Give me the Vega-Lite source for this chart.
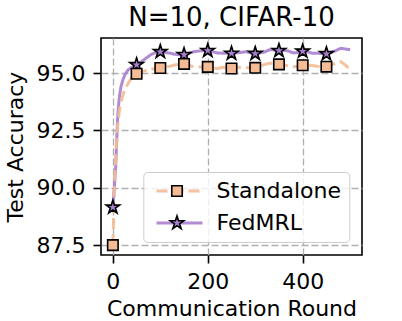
{
  "$schema": "https://vega.github.io/schema/vega-lite/v6.json",
  "autosize": "none",
  "width": 261,
  "height": 217,
  "padding": {"left": 101, "top": 38, "right": 40, "bottom": 66},
  "background": "white",
  "title": {"text": "N=10, CIFAR-10", "fontSize": 26, "font": "DejaVu Sans", "fontWeight": "normal", "color": "black", "anchor": "middle", "frame": "group", "baseline": "top", "offset": 7.5},
  "config": {
    "view": {"stroke": "black", "strokeWidth": 1.6},
    "axis": {"labelFont": "DejaVu Sans", "labelFontSize": 22, "labelColor": "black", "titleFont": "DejaVu Sans", "titleFontSize": 22, "titleFontWeight": "normal", "titleColor": "black", "tickColor": "black", "tickSize": 8, "tickWidth": 1.6, "domain": false, "gridColor": "#b0b0b0", "gridDash": [7, 3], "gridWidth": 1.3, "labelPadding": 8}
  },
  "data": {"values": [
    {"r": 0, "acc": 89.15, "m": "FedMRL"}, {"r": 3, "acc": 90.0, "m": "FedMRL"}, {"r": 6, "acc": 90.9, "m": "FedMRL"}, {"r": 8, "acc": 92.0, "m": "FedMRL"}, {"r": 10, "acc": 93.0, "m": "FedMRL"}, {"r": 12, "acc": 93.6, "m": "FedMRL"}, {"r": 14, "acc": 94.0, "m": "FedMRL"}, {"r": 17, "acc": 94.4, "m": "FedMRL"}, {"r": 21, "acc": 94.7, "m": "FedMRL"}, {"r": 26, "acc": 94.95, "m": "FedMRL"}, {"r": 32, "acc": 95.14, "m": "FedMRL"}, {"r": 40, "acc": 95.25, "m": "FedMRL"},
    {"r": 50, "acc": 95.36, "m": "FedMRL"}, {"r": 60, "acc": 95.5, "m": "FedMRL"}, {"r": 70, "acc": 95.65, "m": "FedMRL"}, {"r": 80, "acc": 95.8, "m": "FedMRL"}, {"r": 90, "acc": 95.9, "m": "FedMRL"}, {"r": 100, "acc": 95.93, "m": "FedMRL"}, {"r": 110, "acc": 95.9, "m": "FedMRL"}, {"r": 120, "acc": 95.87, "m": "FedMRL"}, {"r": 130, "acc": 95.82, "m": "FedMRL"}, {"r": 140, "acc": 95.8, "m": "FedMRL"}, {"r": 150, "acc": 95.8, "m": "FedMRL"}, {"r": 160, "acc": 95.86, "m": "FedMRL"}, {"r": 170, "acc": 95.93, "m": "FedMRL"}, {"r": 180, "acc": 95.96, "m": "FedMRL"}, {"r": 190, "acc": 95.98, "m": "FedMRL"}, {"r": 200, "acc": 95.98, "m": "FedMRL"}, {"r": 210, "acc": 95.93, "m": "FedMRL"}, {"r": 220, "acc": 95.88, "m": "FedMRL"}, {"r": 230, "acc": 95.87, "m": "FedMRL"}, {"r": 240, "acc": 95.87, "m": "FedMRL"}, {"r": 250, "acc": 95.86, "m": "FedMRL"}, {"r": 260, "acc": 95.88, "m": "FedMRL"}, {"r": 270, "acc": 95.9, "m": "FedMRL"}, {"r": 280, "acc": 95.93, "m": "FedMRL"}, {"r": 290, "acc": 95.88, "m": "FedMRL"}, {"r": 300, "acc": 95.85, "m": "FedMRL"}, {"r": 310, "acc": 95.88, "m": "FedMRL"}, {"r": 320, "acc": 95.92, "m": "FedMRL"}, {"r": 330, "acc": 96.02, "m": "FedMRL"}, {"r": 340, "acc": 96.01, "m": "FedMRL"}, {"r": 350, "acc": 95.98, "m": "FedMRL"}, {"r": 360, "acc": 96.0, "m": "FedMRL"}, {"r": 370, "acc": 95.96, "m": "FedMRL"}, {"r": 380, "acc": 95.88, "m": "FedMRL"}, {"r": 390, "acc": 95.9, "m": "FedMRL"}, {"r": 400, "acc": 95.95, "m": "FedMRL"}, {"r": 410, "acc": 95.92, "m": "FedMRL"}, {"r": 420, "acc": 95.87, "m": "FedMRL"}, {"r": 430, "acc": 95.87, "m": "FedMRL"}, {"r": 440, "acc": 95.85, "m": "FedMRL"}, {"r": 450, "acc": 95.84, "m": "FedMRL"}, {"r": 460, "acc": 95.9, "m": "FedMRL"}, {"r": 470, "acc": 95.98, "m": "FedMRL"}, {"r": 480, "acc": 96.08, "m": "FedMRL"}, {"r": 490, "acc": 96.05, "m": "FedMRL"}, {"r": 500, "acc": 96.02, "m": "FedMRL"},
    {"r": 0, "acc": 87.5, "m": "Standalone"}, {"r": 2, "acc": 89.0, "m": "Standalone"}, {"r": 4, "acc": 90.3, "m": "Standalone"}, {"r": 6, "acc": 91.3, "m": "Standalone"}, {"r": 8, "acc": 92.1, "m": "Standalone"}, {"r": 10, "acc": 92.7, "m": "Standalone"}, {"r": 14, "acc": 93.4, "m": "Standalone"}, {"r": 18, "acc": 93.8, "m": "Standalone"}, {"r": 22, "acc": 94.1, "m": "Standalone"}, {"r": 28, "acc": 94.4, "m": "Standalone"}, {"r": 35, "acc": 94.65, "m": "Standalone"}, {"r": 42, "acc": 94.85, "m": "Standalone"},
    {"r": 50, "acc": 94.97, "m": "Standalone"}, {"r": 60, "acc": 95.05, "m": "Standalone"}, {"r": 70, "acc": 95.12, "m": "Standalone"}, {"r": 80, "acc": 95.16, "m": "Standalone"}, {"r": 90, "acc": 95.2, "m": "Standalone"}, {"r": 100, "acc": 95.22, "m": "Standalone"}, {"r": 110, "acc": 95.27, "m": "Standalone"}, {"r": 120, "acc": 95.3, "m": "Standalone"}, {"r": 130, "acc": 95.35, "m": "Standalone"}, {"r": 140, "acc": 95.38, "m": "Standalone"}, {"r": 150, "acc": 95.4, "m": "Standalone"}, {"r": 160, "acc": 95.33, "m": "Standalone"}, {"r": 170, "acc": 95.28, "m": "Standalone"}, {"r": 180, "acc": 95.26, "m": "Standalone"}, {"r": 190, "acc": 95.27, "m": "Standalone"}, {"r": 200, "acc": 95.27, "m": "Standalone"}, {"r": 210, "acc": 95.22, "m": "Standalone"}, {"r": 220, "acc": 95.2, "m": "Standalone"}, {"r": 230, "acc": 95.24, "m": "Standalone"}, {"r": 240, "acc": 95.25, "m": "Standalone"}, {"r": 250, "acc": 95.2, "m": "Standalone"}, {"r": 260, "acc": 95.24, "m": "Standalone"}, {"r": 270, "acc": 95.26, "m": "Standalone"}, {"r": 280, "acc": 95.24, "m": "Standalone"}, {"r": 290, "acc": 95.22, "m": "Standalone"}, {"r": 300, "acc": 95.23, "m": "Standalone"}, {"r": 310, "acc": 95.3, "m": "Standalone"}, {"r": 320, "acc": 95.38, "m": "Standalone"}, {"r": 330, "acc": 95.43, "m": "Standalone"}, {"r": 340, "acc": 95.42, "m": "Standalone"}, {"r": 350, "acc": 95.38, "m": "Standalone"}, {"r": 360, "acc": 95.36, "m": "Standalone"}, {"r": 370, "acc": 95.3, "m": "Standalone"}, {"r": 380, "acc": 95.28, "m": "Standalone"}, {"r": 390, "acc": 95.3, "m": "Standalone"}, {"r": 400, "acc": 95.34, "m": "Standalone"}, {"r": 410, "acc": 95.35, "m": "Standalone"}, {"r": 420, "acc": 95.33, "m": "Standalone"}, {"r": 430, "acc": 95.3, "m": "Standalone"}, {"r": 440, "acc": 95.28, "m": "Standalone"}, {"r": 450, "acc": 95.28, "m": "Standalone"}, {"r": 460, "acc": 95.36, "m": "Standalone"}, {"r": 470, "acc": 95.43, "m": "Standalone"}, {"r": 480, "acc": 95.5, "m": "Standalone"}, {"r": 490, "acc": 95.35, "m": "Standalone"}, {"r": 500, "acc": 95.15, "m": "Standalone"}
  ]},
  "encoding": {
    "x": {"field": "r", "type": "quantitative", "scale": {"domain": [-25, 525], "nice": false, "zero": false}, "axis": {"title": "Communication Round", "values": [0, 200, 400], "titlePadding": 6}},
    "y": {"field": "acc", "type": "quantitative", "scale": {"domain": [87.07, 96.53], "nice": false, "zero": false}, "axis": {"title": "Test Accuracy", "values": [87.5, 90, 92.5, 95], "format": ".1f", "titlePadding": 9}}
  },
  "layer": [
    {
      "mark": {"type": "line", "strokeWidth": 3, "opacity": 0.9},
      "encoding": {
        "color": {"field": "m", "type": "nominal", "sort": "descending", "scale": {"range": ["#f4bb94", "#a97fd0"]},
          "legend": {"title": null, "orient": "none", "zindex": 1, "legendX": 42.3, "legendY": 134, "padding": 8, "rowPadding": 10, "symbolType": "M-4.6,0H4.6", "symbolSize": 100, "symbolStrokeWidth": 3, "symbolOffset": 17.2, "labelFont": "DejaVu Sans", "labelFontSize": 22, "labelColor": "black", "labelOffset": 26, "strokeColor": "#cccccc", "fillColor": "rgba(255,255,255,0.8)", "cornerRadius": 4}},
        "strokeDash": {"field": "m", "type": "nominal", "sort": "descending", "scale": {"range": [[11, 5], [1, 0]]},
          "legend": {"title": null, "orient": "none", "zindex": 1, "legendX": 42.3, "legendY": 134, "padding": 8, "rowPadding": 10, "symbolType": "M-4.6,0H4.6", "symbolSize": 100, "symbolStrokeWidth": 3, "symbolOffset": 17.2, "labelFont": "DejaVu Sans", "labelFontSize": 22, "labelColor": "black", "labelOffset": 26, "strokeColor": "#cccccc", "fillColor": "rgba(255,255,255,0.8)", "cornerRadius": 4}}
      }
    },
    {
      "transform": [{"filter": "datum.r % 50 == 0 && datum.r <= 450"}],
      "mark": {"type": "point", "filled": true, "stroke": "black", "strokeWidth": 1.6, "size": 200, "opacity": 1},
      "encoding": {
        "fill": {"field": "m", "type": "nominal", "sort": "descending", "scale": {"range": ["#f4bb94", "#a97fd0"]},
          "legend": {"title": null, "orient": "none", "zindex": 2, "legendX": 57, "legendY": 134, "padding": 8, "rowPadding": 10, "symbolSize": 200, "symbolStrokeColor": "black", "symbolStrokeWidth": 1.6, "symbolOpacity": 1, "labelFont": "DejaVu Sans", "labelFontSize": 22, "labelExpr": "' '", "labelOffset": 4,
            "encode": {"symbols": {"update": {"stroke": {"value": "black"}, "strokeWidth": {"value": 1.6}, "size": {"value": 200}, "opacity": {"value": 1}}}}}},
        "shape": {"field": "m", "type": "nominal", "sort": "descending", "scale": {"range": ["M-0.74,-0.74H0.74V0.74H-0.74Z", "M0,-1L0.2245,-0.309L0.9511,-0.309L0.3633,0.118L0.5878,0.809L0,0.382L-0.5878,0.809L-0.3633,0.118L-0.9511,-0.309L-0.2245,-0.309Z"]},
          "legend": {"title": null, "orient": "none", "zindex": 2, "legendX": 57, "legendY": 134, "padding": 8, "rowPadding": 10, "symbolSize": 200, "symbolStrokeColor": "black", "symbolStrokeWidth": 1.6, "symbolOpacity": 1, "labelFont": "DejaVu Sans", "labelFontSize": 22, "labelExpr": "' '", "labelOffset": 4,
            "encode": {"symbols": {"update": {"stroke": {"value": "black"}, "strokeWidth": {"value": 1.6}, "size": {"value": 200}, "opacity": {"value": 1}}}}}}
      }
    }
  ]
}
